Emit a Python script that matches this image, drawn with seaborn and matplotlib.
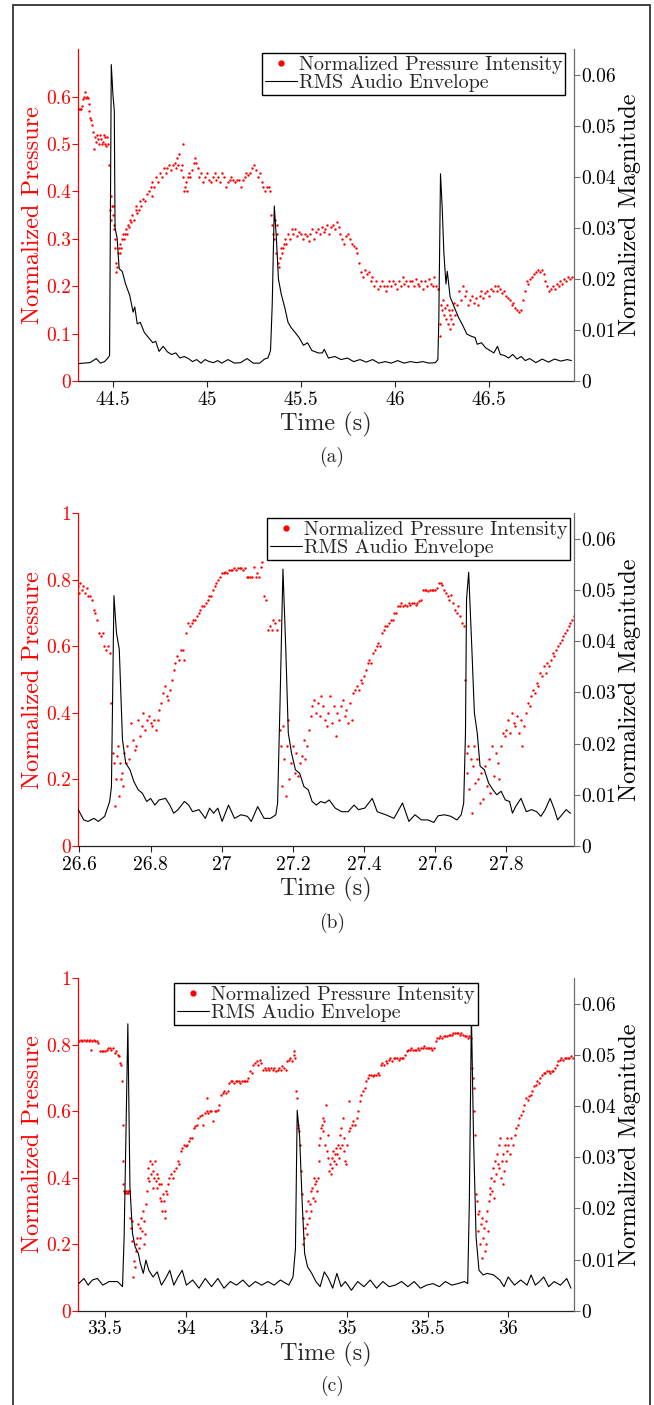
import matplotlib
matplotlib.use("Agg")
import matplotlib.pyplot as plt
from matplotlib.lines import Line2D
from matplotlib.patches import Rectangle
import seaborn as sns

# ---------------- data ----------------
legend_labels = ["Normalized Pressure Intensity", "RMS Audio Envelope"]
captions = ["(a)", "(b)", "(c)"]

# panel (a)
a_press_t = [44.315, 44.32, 44.325, 44.33, 44.335, 44.34, 44.345, 44.35, 44.355, 44.36, 44.365, 44.37, 44.375, 44.38,
             44.385, 44.39, 44.395, 44.40, 44.405, 44.41, 44.415, 44.42, 44.425, 44.43, 44.435, 44.44, 44.445, 44.45,
             44.455, 44.46, 44.465, 44.47, 44.475, 44.48, 44.485, 44.49, 44.492, 44.495, 44.498, 44.50, 44.503, 44.505,
             44.51, 44.513, 44.515, 44.518, 44.52, 44.525, 44.53, 44.535, 44.54, 44.545, 44.55, 44.555, 44.56, 44.565,
             44.57, 44.575, 44.58, 44.585, 44.59, 44.595, 44.60, 44.61, 44.62, 44.625, 44.63, 44.64, 44.645, 44.65,
             44.66, 44.67, 44.68, 44.69, 44.70, 44.705, 44.71, 44.72, 44.73, 44.74, 44.75, 44.76, 44.77, 44.78, 44.79,
             44.80, 44.81, 44.82, 44.83, 44.835, 44.84, 44.845, 44.85, 44.86, 44.865, 44.872, 44.875, 44.88, 44.885,
             44.89, 44.895, 44.90, 44.905, 44.91, 44.92, 44.93, 44.935, 44.94, 44.95, 44.96, 44.97, 44.98, 44.99,
             45.00, 45.01, 45.02, 45.03, 45.04, 45.05, 45.06, 45.07, 45.08, 45.09, 45.10, 45.11, 45.12, 45.13, 45.14,
             45.15, 45.16, 45.17, 45.18, 45.19, 45.20, 45.21, 45.22, 45.23, 45.24, 45.25, 45.26, 45.27, 45.28, 45.29,
             45.30, 45.31, 45.32, 45.33, 45.335, 45.34, 45.345, 45.35, 45.355, 45.36, 45.365, 45.37, 45.375, 45.38,
             45.385, 45.39, 45.395, 45.40, 45.405, 45.41, 45.415, 45.42, 45.43, 45.44, 45.45, 45.46, 45.47, 45.48,
             45.49, 45.50, 45.51, 45.52, 45.53, 45.54, 45.55, 45.56, 45.57, 45.58, 45.59, 45.60, 45.61, 45.62, 45.63,
             45.64, 45.65, 45.66, 45.67, 45.68, 45.69, 45.70, 45.71, 45.72, 45.73, 45.74, 45.75, 45.76, 45.77, 45.78,
             45.79, 45.80, 45.81, 45.82, 45.83, 45.84, 45.85, 45.86, 45.87, 45.88, 45.89, 45.90, 45.91, 45.92, 45.93,
             45.94, 45.95, 45.96, 45.97, 45.98, 45.99, 46.00, 46.01, 46.02, 46.03, 46.04, 46.05, 46.06, 46.07, 46.08,
             46.09, 46.10, 46.11, 46.12, 46.13, 46.14, 46.15, 46.16, 46.17, 46.18, 46.19, 46.20, 46.21, 46.22, 46.23,
             46.237, 46.24, 46.245, 46.25, 46.255, 46.26, 46.265, 46.27, 46.275, 46.28, 46.285, 46.29, 46.295, 46.30,
             46.305, 46.31, 46.315, 46.32, 46.33, 46.34, 46.35, 46.36, 46.37, 46.38, 46.39, 46.40, 46.41, 46.42, 46.43,
             46.44, 46.45, 46.46, 46.47, 46.48, 46.49, 46.50, 46.51, 46.52, 46.53, 46.54, 46.55, 46.56, 46.57, 46.58,
             46.59, 46.60, 46.61, 46.62, 46.63, 46.64, 46.65, 46.66, 46.67, 46.68, 46.69, 46.70, 46.71, 46.72, 46.73,
             46.74, 46.75, 46.76, 46.77, 46.78, 46.79, 46.80, 46.81, 46.82, 46.83, 46.84, 46.85, 46.86, 46.87, 46.88,
             46.89, 46.90, 46.91, 46.92, 46.93, 46.94]
a_press_v = [0.575, 0.575, 0.575, 0.575, 0.58, 0.595, 0.6, 0.61, 0.598, 0.6, 0.598, 0.585, 0.57, 0.555,
             0.55, 0.54, 0.525, 0.49, 0.515, 0.505, 0.52, 0.51, 0.5, 0.52, 0.51, 0.5, 0.505, 0.52,
             0.515, 0.5, 0.495, 0.515, 0.5, 0.455, 0.36, 0.34, 0.39, 0.37, 0.35, 0.37, 0.33, 0.32,
             0.3, 0.28, 0.25, 0.23, 0.24, 0.27, 0.28, 0.27, 0.29, 0.28, 0.3, 0.31, 0.3, 0.31,
             0.32, 0.31, 0.33, 0.325, 0.34, 0.335, 0.35, 0.34, 0.36, 0.37, 0.355, 0.36, 0.38, 0.37,
             0.385, 0.38, 0.395, 0.40, 0.41, 0.39, 0.42, 0.41, 0.43, 0.42, 0.44, 0.43, 0.45, 0.44, 0.45,
             0.455, 0.445, 0.455, 0.46, 0.45, 0.47, 0.455, 0.48, 0.445, 0.455, 0.5, 0.43, 0.40, 0.41,
             0.42, 0.40, 0.43, 0.44, 0.43, 0.445, 0.46, 0.47, 0.46, 0.45, 0.43, 0.44, 0.42, 0.43,
             0.44, 0.425, 0.42, 0.43, 0.44, 0.425, 0.43, 0.42, 0.44, 0.43, 0.41, 0.42, 0.425, 0.43, 0.425,
             0.42, 0.425, 0.425, 0.41, 0.425, 0.43, 0.44, 0.435, 0.44, 0.45, 0.455, 0.445, 0.43, 0.44, 0.42,
             0.41, 0.40, 0.41, 0.41, 0.40, 0.35, 0.33, 0.31, 0.30, 0.34, 0.27, 0.33, 0.31, 0.25,
             0.24, 0.26, 0.28, 0.27, 0.28, 0.29, 0.30, 0.29, 0.31, 0.30, 0.32, 0.31, 0.32, 0.305,
             0.315, 0.31, 0.30, 0.31, 0.305, 0.295, 0.31, 0.32, 0.30, 0.315, 0.32, 0.31, 0.325, 0.315, 0.32,
             0.33, 0.31, 0.325, 0.33, 0.32, 0.335, 0.325, 0.31, 0.30, 0.29, 0.305, 0.31, 0.30, 0.29, 0.285,
             0.28, 0.27, 0.25, 0.23, 0.22, 0.235, 0.225, 0.23, 0.21, 0.22, 0.20, 0.21, 0.195, 0.20, 0.21,
             0.20, 0.19, 0.20, 0.21, 0.20, 0.21, 0.205, 0.195, 0.21, 0.20, 0.22, 0.205, 0.21, 0.20, 0.21,
             0.21, 0.20, 0.215, 0.205, 0.20, 0.21, 0.195, 0.21, 0.20, 0.215, 0.205, 0.20, 0.22, 0.20, 0.195,
             0.095, 0.12, 0.16, 0.15, 0.17, 0.14, 0.155, 0.13, 0.16, 0.12, 0.15, 0.11, 0.14, 0.13,
             0.15, 0.12, 0.165, 0.14, 0.16, 0.19, 0.17, 0.20, 0.18, 0.19, 0.16, 0.17, 0.18, 0.165, 0.175,
             0.16, 0.18, 0.19, 0.175, 0.185, 0.19, 0.18, 0.195, 0.19, 0.20, 0.19, 0.20, 0.195, 0.185, 0.19,
             0.18, 0.175, 0.17, 0.16, 0.165, 0.155, 0.15, 0.145, 0.15, 0.17, 0.19, 0.21, 0.205, 0.215, 0.22,
             0.225, 0.23, 0.235, 0.23, 0.235, 0.225, 0.21, 0.20, 0.19, 0.195, 0.20, 0.195, 0.205, 0.20, 0.21,
             0.205, 0.215, 0.21, 0.22, 0.215, 0.22]
a_audio_t = [44.315, 44.344, 44.378, 44.411, 44.433, 44.455, 44.473, 44.482, 44.491, 44.50, 44.507, 44.511, 44.522,
             44.533, 44.549, 44.567, 44.589, 44.607, 44.616, 44.629, 44.645, 44.667, 44.689, 44.712, 44.727, 44.745,
             44.767, 44.79, 44.812, 44.834, 44.856, 44.879, 44.901, 44.923, 44.945, 44.968, 44.99, 45.012, 45.035,
             45.057, 45.079, 45.112, 45.146, 45.179, 45.213, 45.246, 45.28, 45.306, 45.324, 45.338, 45.347, 45.358,
             45.369, 45.38, 45.395, 45.413, 45.431, 45.447, 45.469, 45.49, 45.513, 45.535, 45.557, 45.591, 45.613,
             45.624, 45.646, 45.68, 45.713, 45.747, 45.78, 45.814, 45.847, 45.881, 45.914, 45.948, 45.98, 46.014,
             46.048, 46.081, 46.115, 46.148, 46.182, 46.215, 46.228, 46.233, 46.242, 46.251, 46.26, 46.271, 46.278,
             46.293, 46.315, 46.337, 46.359, 46.382, 46.404, 46.426, 46.437, 46.46, 46.482, 46.504, 46.526, 46.545,
             46.56, 46.582, 46.604, 46.626, 46.649, 46.671, 46.693, 46.716, 46.749, 46.783, 46.816, 46.849, 46.882,
             46.916, 46.938]
a_audio_v = [0.0034, 0.0035, 0.0036, 0.0044, 0.0035, 0.0038, 0.0045, 0.005, 0.062, 0.056, 0.053, 0.030, 0.028,
             0.022, 0.0215, 0.019, 0.0168, 0.0135, 0.0145, 0.0112, 0.0115, 0.0095, 0.0085, 0.0075, 0.0078, 0.0058,
             0.0068, 0.0057, 0.0052, 0.0055, 0.0045, 0.0048, 0.0044, 0.0038, 0.0042, 0.0035, 0.0042, 0.0038, 0.0036,
             0.004, 0.0035, 0.0042, 0.0035, 0.0036, 0.0044, 0.0035, 0.0035, 0.0043, 0.0045, 0.006, 0.015, 0.0343,
             0.028, 0.020, 0.017, 0.0145, 0.0115, 0.0105, 0.0095, 0.0085, 0.007, 0.0075, 0.006, 0.0055, 0.0055,
             0.0062, 0.0045, 0.0048, 0.0042, 0.0045, 0.0038, 0.0042, 0.0037, 0.0042, 0.0035, 0.0038, 0.0035, 0.004,
             0.0035, 0.0038, 0.0036, 0.0038, 0.0035, 0.0036, 0.0042, 0.012, 0.0406, 0.034, 0.025, 0.019, 0.0215,
             0.0165, 0.0145, 0.0125, 0.011, 0.0092, 0.0088, 0.0085, 0.0072, 0.0075, 0.0065, 0.006, 0.0055, 0.0068,
             0.0052, 0.005, 0.0045, 0.0052, 0.0043, 0.0048, 0.004, 0.0044, 0.0036, 0.0043, 0.0037, 0.0043, 0.0039,
             0.0042, 0.004]

# panel (b)
b_press_t = [26.597, 26.60, 26.603, 26.606, 26.61, 26.615, 26.62, 26.625, 26.63, 26.635, 26.64, 26.645, 26.65, 26.655,
             26.66, 26.665, 26.67, 26.675, 26.68, 26.685, 26.69, 26.694, 26.697, 26.70, 26.703, 26.706, 26.709, 26.712,
             26.715, 26.718, 26.72, 26.723, 26.726, 26.73, 26.735, 26.74, 26.745, 26.75, 26.755, 26.76, 26.765, 26.77,
             26.775, 26.78, 26.785, 26.79, 26.795, 26.80, 26.805, 26.81, 26.815, 26.82, 26.825, 26.83, 26.835, 26.84,
             26.845, 26.85, 26.855, 26.86, 26.865, 26.87, 26.875, 26.88, 26.885, 26.89, 26.895, 26.90, 26.905, 26.91,
             26.915, 26.92, 26.925, 26.93, 26.935, 26.94, 26.945, 26.95, 26.955, 26.96, 26.965, 26.97, 26.975, 26.98,
             26.985, 26.99, 26.995, 27.00, 27.005, 27.01, 27.015, 27.02, 27.025, 27.03, 27.035, 27.04, 27.045, 27.05,
             27.055, 27.06, 27.065, 27.07, 27.075, 27.08, 27.085, 27.09, 27.095, 27.10, 27.105, 27.11, 27.113, 27.12,
             27.125, 27.13, 27.135, 27.14, 27.145, 27.15, 27.155, 27.16, 27.164, 27.167, 27.17, 27.173, 27.176, 27.18,
             27.183, 27.186, 27.19, 27.195, 27.20, 27.205, 27.21, 27.215, 27.22, 27.225, 27.23, 27.235, 27.24, 27.245,
             27.25, 27.255, 27.26, 27.265, 27.27, 27.275, 27.28, 27.285, 27.29, 27.295, 27.30, 27.305, 27.31, 27.315,
             27.32, 27.325, 27.33, 27.335, 27.34, 27.345, 27.35, 27.355, 27.36, 27.365, 27.37, 27.375, 27.38, 27.385,
             27.39, 27.395, 27.40, 27.405, 27.41, 27.415, 27.42, 27.425, 27.43, 27.435, 27.44, 27.445, 27.45, 27.455,
             27.46, 27.465, 27.47, 27.475, 27.48, 27.485, 27.49, 27.495, 27.50, 27.505, 27.51, 27.515, 27.52, 27.525,
             27.53, 27.535, 27.54, 27.545, 27.55, 27.555, 27.56, 27.565, 27.57, 27.575, 27.58, 27.585, 27.59, 27.595,
             27.60, 27.605, 27.61, 27.615, 27.62, 27.625, 27.63, 27.635, 27.64, 27.645, 27.65, 27.655, 27.66, 27.665,
             27.67, 27.675, 27.68, 27.685, 27.688, 27.69, 27.693, 27.696, 27.70, 27.703, 27.706, 27.71, 27.713, 27.716,
             27.72, 27.725, 27.73, 27.735, 27.74, 27.745, 27.75, 27.755, 27.76, 27.765, 27.77, 27.775, 27.78, 27.785,
             27.79, 27.795, 27.80, 27.805, 27.81, 27.815, 27.82, 27.825, 27.83, 27.835, 27.84, 27.845, 27.85, 27.855,
             27.86, 27.865, 27.87, 27.875, 27.88, 27.885, 27.89, 27.895, 27.90, 27.905, 27.91, 27.915, 27.92, 27.925,
             27.93, 27.935, 27.94, 27.945, 27.95, 27.955, 27.96, 27.965, 27.97, 27.975, 27.98, 27.985, 27.99]
b_press_v = [0.78, 0.76, 0.79, 0.77, 0.78, 0.76, 0.775, 0.75, 0.75, 0.74, 0.71, 0.70, 0.68, 0.64,
             0.63, 0.64, 0.60, 0.59, 0.60, 0.58, 0.43, 0.28, 0.25, 0.12, 0.20, 0.27, 0.30, 0.15,
             0.25, 0.20, 0.22, 0.18, 0.28, 0.25, 0.30, 0.26, 0.37, 0.32, 0.29, 0.30, 0.38, 0.33,
             0.36, 0.40, 0.35, 0.38, 0.39, 0.37, 0.36, 0.38, 0.35, 0.38, 0.41, 0.43, 0.46, 0.48,
             0.45, 0.44, 0.47, 0.50, 0.53, 0.55, 0.57, 0.56, 0.59, 0.59, 0.56, 0.64, 0.67, 0.66,
             0.67, 0.68, 0.68, 0.69, 0.70, 0.71, 0.72, 0.72, 0.73, 0.74, 0.75, 0.75, 0.77, 0.78,
             0.79, 0.80, 0.81, 0.82, 0.82, 0.825, 0.82, 0.83, 0.83, 0.83, 0.835, 0.83, 0.835, 0.835,
             0.835, 0.83, 0.835, 0.81, 0.81, 0.81, 0.81, 0.84, 0.81, 0.82, 0.81, 0.84, 0.855, 0.75,
             0.74, 0.65, 0.66, 0.65, 0.68, 0.67, 0.65, 0.68, 0.35, 0.30, 0.18, 0.36, 0.26, 0.15,
             0.30, 0.38, 0.20, 0.25, 0.30, 0.22, 0.28, 0.21, 0.25, 0.27, 0.32, 0.26, 0.30, 0.35,
             0.39, 0.42, 0.44, 0.40, 0.43, 0.39, 0.45, 0.42, 0.38, 0.36, 0.40, 0.45, 0.37, 0.42,
             0.33, 0.40, 0.38, 0.42, 0.44, 0.39, 0.41, 0.37, 0.43, 0.38, 0.46, 0.47, 0.48, 0.47,
             0.50, 0.49, 0.51, 0.53, 0.55, 0.56, 0.55, 0.58, 0.59, 0.60, 0.61, 0.60, 0.64, 0.65,
             0.66, 0.66, 0.67, 0.68, 0.68, 0.70, 0.70, 0.72, 0.72, 0.73, 0.72, 0.725, 0.72, 0.73,
             0.725, 0.73, 0.73, 0.725, 0.73, 0.735, 0.74, 0.77, 0.77, 0.77, 0.765, 0.77, 0.77, 0.77,
             0.77, 0.775, 0.79, 0.79, 0.785, 0.77, 0.76, 0.75, 0.74, 0.755, 0.73, 0.71, 0.70, 0.72,
             0.69, 0.67, 0.66, 0.50, 0.28, 0.22, 0.30, 0.17, 0.26, 0.10, 0.24, 0.30, 0.19, 0.26,
             0.20, 0.13, 0.22, 0.14, 0.24, 0.18, 0.26, 0.16, 0.30, 0.21, 0.28, 0.25, 0.20, 0.30,
             0.34, 0.33, 0.35, 0.38, 0.34, 0.40, 0.37, 0.36, 0.39, 0.34, 0.38, 0.30, 0.36, 0.40,
             0.43, 0.42, 0.45, 0.47, 0.46, 0.49, 0.48, 0.52, 0.51, 0.54, 0.52, 0.55, 0.54, 0.56,
             0.58, 0.57, 0.59, 0.60, 0.61, 0.62, 0.63, 0.64, 0.65, 0.66, 0.67, 0.68, 0.69]
b_audio_t = [26.596, 26.612, 26.624, 26.641, 26.653, 26.671, 26.685, 26.69, 26.697, 26.704, 26.712, 26.721, 26.73,
             26.742, 26.753, 26.765, 26.777, 26.789, 26.80, 26.812, 26.824, 26.842, 26.854, 26.865, 26.877, 26.895,
             26.907, 26.918, 26.936, 26.954, 26.966, 26.977, 26.989, 27.001, 27.019, 27.036, 27.054, 27.072, 27.083,
             27.101, 27.119, 27.137, 27.152, 27.157, 27.164, 27.172, 27.18, 27.187, 27.196, 27.207, 27.219, 27.231,
             27.243, 27.254, 27.266, 27.278, 27.29, 27.302, 27.319, 27.337, 27.355, 27.372, 27.384, 27.402, 27.423,
             27.437, 27.461, 27.484, 27.508, 27.526, 27.543, 27.561, 27.579, 27.596, 27.608, 27.626, 27.644, 27.661,
             27.673, 27.68, 27.685, 27.688, 27.694, 27.703, 27.71, 27.718, 27.726, 27.738, 27.75, 27.762, 27.773,
             27.785, 27.797, 27.809, 27.817, 27.826, 27.841, 27.856, 27.871, 27.885, 27.897, 27.909, 27.923, 27.935,
             27.944, 27.956, 27.968, 27.98]
b_audio_v = [0.0072, 0.0051, 0.0048, 0.0054, 0.0048, 0.0058, 0.0087, 0.0116, 0.0489, 0.0417, 0.0384, 0.0208, 0.0162,
             0.0149, 0.0126, 0.011, 0.0103, 0.0087, 0.0093, 0.008, 0.009, 0.0093, 0.008, 0.0064, 0.0071, 0.0087,
             0.008, 0.0067, 0.0071, 0.0054, 0.0074, 0.0064, 0.0074, 0.0048, 0.008, 0.0054, 0.0061, 0.0058, 0.0048,
             0.0077, 0.0054, 0.0054, 0.0061, 0.0084, 0.0286, 0.0541, 0.0384, 0.0221, 0.0182, 0.0149, 0.0142, 0.0116,
             0.011, 0.0087, 0.008, 0.0087, 0.0084, 0.009, 0.0074, 0.0067, 0.0067, 0.008, 0.0071, 0.0074, 0.0093,
             0.0067, 0.0061, 0.0054, 0.0084, 0.0048, 0.0061, 0.0051, 0.0051, 0.0046, 0.0059, 0.0061, 0.0058, 0.0051,
             0.0061, 0.0084, 0.0221, 0.0482, 0.0535, 0.0384, 0.026, 0.0221, 0.0156, 0.0149, 0.0123, 0.011, 0.010,
             0.0107, 0.009, 0.0087, 0.0064, 0.0077, 0.0093, 0.0067, 0.0071, 0.0067, 0.0058, 0.0071, 0.0093, 0.0071,
             0.0051, 0.0061, 0.0071, 0.0064]

# panel (c)
c_press_t = [33.34, 33.35, 33.36, 33.37, 33.38, 33.39, 33.40, 33.41, 33.415, 33.42, 33.43, 33.44, 33.45, 33.46,
             33.47, 33.48, 33.49, 33.50, 33.51, 33.52, 33.53, 33.54, 33.55, 33.56, 33.57, 33.58, 33.59, 33.595,
             33.60, 33.605, 33.61, 33.612, 33.615, 33.62, 33.625, 33.63, 33.635, 33.64, 33.645, 33.65, 33.655, 33.66,
             33.665, 33.67, 33.675, 33.68, 33.685, 33.69, 33.695, 33.70, 33.705, 33.71, 33.715, 33.72, 33.725, 33.73,
             33.735, 33.74, 33.745, 33.75, 33.755, 33.76, 33.765, 33.77, 33.775, 33.78, 33.785, 33.79, 33.795, 33.80,
             33.805, 33.81, 33.815, 33.82, 33.825, 33.83, 33.835, 33.84, 33.845, 33.85, 33.855, 33.86, 33.865, 33.87,
             33.875, 33.88, 33.885, 33.89, 33.90, 33.91, 33.92, 33.93, 33.94, 33.95, 33.96, 33.97, 33.98, 33.99,
             34.00, 34.01, 34.02, 34.03, 34.04, 34.05, 34.06, 34.07, 34.08, 34.09, 34.10, 34.11, 34.12, 34.13,
             34.135, 34.14, 34.15, 34.16, 34.17, 34.18, 34.19, 34.20, 34.21, 34.22, 34.23, 34.24, 34.25, 34.26,
             34.27, 34.28, 34.29, 34.30, 34.31, 34.32, 34.33, 34.34, 34.35, 34.36, 34.37, 34.38, 34.39, 34.40,
             34.41, 34.42, 34.43, 34.44, 34.45, 34.46, 34.47, 34.48, 34.49, 34.50, 34.51, 34.52, 34.53, 34.54,
             34.55, 34.56, 34.57, 34.58, 34.59, 34.60, 34.61, 34.62, 34.63, 34.64, 34.65, 34.66, 34.67, 34.675,
             34.68, 34.687, 34.69, 34.695, 34.70, 34.705, 34.71, 34.715, 34.72, 34.725, 34.73, 34.735, 34.74, 34.745,
             34.75, 34.755, 34.76, 34.765, 34.77, 34.775, 34.78, 34.785, 34.79, 34.795, 34.80, 34.805, 34.81, 34.815,
             34.82, 34.825, 34.83, 34.835, 34.84, 34.845, 34.85, 34.855, 34.86, 34.865, 34.87, 34.875, 34.88, 34.885,
             34.89, 34.895, 34.90, 34.905, 34.91, 34.915, 34.92, 34.925, 34.93, 34.935, 34.94, 34.945, 34.95, 34.955,
             34.96, 34.965, 34.97, 34.975, 34.98, 34.985, 34.99, 34.995, 35.00, 35.01, 35.015, 35.02, 35.03, 35.04,
             35.05, 35.06, 35.07, 35.08, 35.09, 35.10, 35.11, 35.12, 35.13, 35.14, 35.15, 35.16, 35.17, 35.18,
             35.19, 35.20, 35.21, 35.22, 35.23, 35.24, 35.25, 35.26, 35.27, 35.28, 35.29, 35.30, 35.31, 35.32,
             35.33, 35.34, 35.35, 35.36, 35.37, 35.38, 35.39, 35.40, 35.41, 35.42, 35.43, 35.44, 35.45, 35.46,
             35.47, 35.48, 35.49, 35.50, 35.51, 35.52, 35.53, 35.54, 35.55, 35.56, 35.57, 35.58, 35.59, 35.60,
             35.61, 35.62, 35.63, 35.64, 35.65, 35.66, 35.67, 35.68, 35.69, 35.70, 35.71, 35.72, 35.73, 35.74,
             35.75, 35.76, 35.77, 35.775, 35.78, 35.785, 35.79, 35.795, 35.80, 35.805, 35.81, 35.815, 35.82, 35.825,
             35.83, 35.835, 35.84, 35.845, 35.85, 35.855, 35.86, 35.865, 35.87, 35.875, 35.88, 35.885, 35.89, 35.895,
             35.90, 35.905, 35.91, 35.915, 35.92, 35.925, 35.93, 35.935, 35.94, 35.945, 35.95, 35.955, 35.96, 35.965,
             35.97, 35.975, 35.98, 35.985, 35.99, 35.995, 36.00, 36.01, 36.02, 36.03, 36.04, 36.05, 36.06, 36.07,
             36.08, 36.09, 36.10, 36.11, 36.12, 36.13, 36.14, 36.15, 36.16, 36.17, 36.18, 36.19, 36.20, 36.21,
             36.22, 36.23, 36.24, 36.25, 36.26, 36.27, 36.28, 36.29, 36.30, 36.31, 36.32, 36.33, 36.34, 36.35,
             36.36, 36.37, 36.38, 36.39, 36.40]
c_press_v = [0.81, 0.815, 0.81, 0.815, 0.81, 0.815, 0.81, 0.815, 0.785, 0.81, 0.815, 0.81, 0.81, 0.805,
             0.78, 0.78, 0.78, 0.78, 0.785, 0.79, 0.79, 0.785, 0.79, 0.775, 0.78, 0.77, 0.765, 0.745,
             0.74, 0.69, 0.56, 0.45, 0.38, 0.36, 0.355, 0.36, 0.355, 0.36, 0.355, 0.36, 0.28, 0.25,
             0.21, 0.27, 0.10, 0.15, 0.13, 0.20, 0.18, 0.22, 0.26, 0.19, 0.25, 0.22, 0.28, 0.24,
             0.30, 0.20, 0.27, 0.23, 0.32, 0.36, 0.40, 0.43, 0.39, 0.45, 0.41, 0.44, 0.37, 0.42,
             0.40, 0.45, 0.39, 0.41, 0.37, 0.40, 0.38, 0.34, 0.33, 0.38, 0.30, 0.35, 0.33, 0.28,
             0.30, 0.36, 0.35, 0.38, 0.40, 0.41, 0.40, 0.42, 0.43, 0.45, 0.44, 0.48, 0.49, 0.50,
             0.495, 0.50, 0.51, 0.52, 0.52, 0.55, 0.555, 0.56, 0.58, 0.585, 0.59, 0.56, 0.595, 0.60,
             0.64, 0.595, 0.60, 0.60, 0.57, 0.60, 0.60, 0.605, 0.62, 0.65, 0.655, 0.66, 0.655, 0.66,
             0.685, 0.69, 0.69, 0.685, 0.69, 0.69, 0.69, 0.685, 0.69, 0.69, 0.69, 0.69, 0.70, 0.72,
             0.715, 0.74, 0.745, 0.75, 0.74, 0.755, 0.745, 0.725, 0.73, 0.725, 0.73, 0.725, 0.73, 0.725,
             0.73, 0.72, 0.725, 0.73, 0.725, 0.735, 0.73, 0.725, 0.75, 0.755, 0.76, 0.75, 0.78, 0.77,
             0.76, 0.66, 0.64, 0.56, 0.55, 0.54, 0.50, 0.42, 0.35, 0.28, 0.20, 0.22, 0.25, 0.30,
             0.23, 0.26, 0.33, 0.28, 0.32, 0.36, 0.30, 0.37, 0.34, 0.40, 0.38, 0.33, 0.39, 0.36,
             0.40, 0.45, 0.50, 0.52, 0.55, 0.56, 0.58, 0.54, 0.57, 0.50, 0.62, 0.48, 0.53, 0.46,
             0.42, 0.44, 0.41, 0.46, 0.43, 0.48, 0.45, 0.47, 0.49, 0.44, 0.47, 0.50, 0.46, 0.53,
             0.49, 0.55, 0.50, 0.58, 0.52, 0.48, 0.45, 0.44, 0.50, 0.54, 0.63, 0.55, 0.56, 0.57,
             0.56, 0.58, 0.60, 0.63, 0.65, 0.66, 0.67, 0.69, 0.70, 0.71, 0.71, 0.705, 0.71, 0.71,
             0.715, 0.71, 0.74, 0.745, 0.74, 0.75, 0.745, 0.755, 0.76, 0.75, 0.76, 0.76, 0.76, 0.755,
             0.76, 0.76, 0.76, 0.77, 0.78, 0.785, 0.785, 0.79, 0.785, 0.785, 0.785, 0.79, 0.785, 0.79,
             0.79, 0.795, 0.79, 0.79, 0.79, 0.79, 0.785, 0.79, 0.81, 0.82, 0.82, 0.825, 0.82, 0.825,
             0.825, 0.825, 0.83, 0.83, 0.83, 0.835, 0.835, 0.835, 0.835, 0.83, 0.835, 0.83, 0.825, 0.825,
             0.82, 0.825, 0.82, 0.73, 0.70, 0.67, 0.60, 0.53, 0.35, 0.33, 0.29, 0.24, 0.30, 0.20,
             0.26, 0.16, 0.28, 0.22, 0.25, 0.18, 0.27, 0.20, 0.30, 0.24, 0.33, 0.35, 0.37, 0.40,
             0.36, 0.43, 0.39, 0.34, 0.45, 0.41, 0.47, 0.44, 0.50, 0.43, 0.52, 0.40, 0.45, 0.38,
             0.47, 0.42, 0.50, 0.45, 0.52, 0.48, 0.50, 0.47, 0.52, 0.50, 0.53, 0.55, 0.56, 0.58,
             0.59, 0.60, 0.62, 0.64, 0.635, 0.645, 0.65, 0.66, 0.675, 0.68, 0.69, 0.685, 0.70, 0.71,
             0.715, 0.715, 0.72, 0.72, 0.715, 0.72, 0.72, 0.73, 0.74, 0.75, 0.755, 0.76, 0.755, 0.76,
             0.76, 0.76, 0.76, 0.765, 0.76]
c_audio_t = [33.337, 33.37, 33.396, 33.422, 33.453, 33.487, 33.526, 33.578, 33.609, 33.619, 33.63, 33.642, 33.655,
             33.671, 33.687, 33.707, 33.72, 33.738, 33.754, 33.772, 33.798, 33.824, 33.85, 33.876, 33.902, 33.927,
             33.953, 33.979, 34.005, 34.044, 34.083, 34.122, 34.161, 34.20, 34.238, 34.277, 34.316, 34.355, 34.394,
             34.433, 34.472, 34.51, 34.549, 34.588, 34.64, 34.666, 34.681, 34.692, 34.707, 34.723, 34.738, 34.756,
             34.782, 34.808, 34.834, 34.86, 34.886, 34.912, 34.938, 34.964, 34.99, 35.028, 35.067, 35.106, 35.145,
             35.184, 35.223, 35.262, 35.30, 35.339, 35.378, 35.417, 35.456, 35.495, 35.534, 35.573, 35.611, 35.65,
             35.689, 35.728, 35.749, 35.759, 35.772, 35.785, 35.801, 35.819, 35.845, 35.87, 35.909, 35.948, 35.974,
             36.00, 36.039, 36.078, 36.117, 36.142, 36.168, 36.194, 36.22, 36.251, 36.285, 36.324, 36.363, 36.389]
c_audio_v = [0.0053, 0.0063, 0.005, 0.006, 0.0063, 0.005, 0.0057, 0.0057, 0.0047, 0.0144, 0.034, 0.0561, 0.0242,
             0.0151, 0.0125, 0.0112, 0.0092, 0.0073, 0.0099, 0.0079, 0.0066, 0.0076, 0.005, 0.0063, 0.0079, 0.005,
             0.0066, 0.0079, 0.005, 0.006, 0.0044, 0.0063, 0.0047, 0.0063, 0.0044, 0.0057, 0.005, 0.006, 0.0047,
             0.0057, 0.005, 0.0057, 0.005, 0.006, 0.005, 0.0066, 0.012, 0.0392, 0.034, 0.021, 0.0112, 0.0086,
             0.0073, 0.0057, 0.0047, 0.0076, 0.0063, 0.0044, 0.0073, 0.0047, 0.0057, 0.004, 0.0057, 0.0047, 0.006,
             0.0044, 0.0057, 0.0047, 0.005, 0.0057, 0.0047, 0.0057, 0.0044, 0.005, 0.0053, 0.0047, 0.0057, 0.005,
             0.0053, 0.0057, 0.0053, 0.021, 0.058, 0.034, 0.0144, 0.0079, 0.007, 0.0073, 0.007, 0.006, 0.0047,
             0.0066, 0.005, 0.006, 0.005, 0.007, 0.005, 0.0057, 0.0066, 0.0047, 0.0057, 0.005, 0.0063, 0.0044]

# axis limits / ticks
a_xlim = (44.314, 46.952)
b_xlim = (26.596, 27.99)
c_xlim = (33.333, 36.408)
a_xticks = [44.5, 45, 45.5, 46, 46.5]
a_xticklabels = ["44.5", "45", "45.5", "46", "46.5"]
b_xticks = [26.6, 26.8, 27.0, 27.2, 27.4, 27.6, 27.8]
b_xticklabels = ["26.6", "26.8", "27", "27.2", "27.4", "27.6", "27.8"]
c_xticks = [33.5, 34, 34.5, 35, 35.5, 36]
c_xticklabels = ["33.5", "34", "34.5", "35", "35.5", "36"]
a_yticks = [0, 0.1, 0.2, 0.3, 0.4, 0.5, 0.6]
a_yticklabels = ["0", "0.1", "0.2", "0.3", "0.4", "0.5", "0.6"]
bc_yticks = [0, 0.2, 0.4, 0.6, 0.8, 1.0]
bc_yticklabels = ["0", "0.2", "0.4", "0.6", "0.8", "1"]
mag_ticks = [0, 0.01, 0.02, 0.03, 0.04, 0.05, 0.06]
mag_ticklabels = ["0", "0.01", "0.02", "0.03", "0.04", "0.05", "0.06"]

# ---------------- style ----------------
sns.set_theme(style="ticks")
plt.rcParams['font.family'] = ['cmr10', 'DejaVu Serif']
plt.rcParams['axes.unicode_minus'] = False
plt.rcParams['axes.formatter.use_mathtext'] = True

RED = "#ff0000"
SPINE_GRAY = "#6e6e6e"
W, H = 654, 1405
fig = plt.figure(figsize=(W / 100, H / 100), dpi=100)

TICK_FS = 14
LABEL_FS = 17.5
LEG_FS = 14.4


def panel(top_px, bottom_px, pt, pv, at, av, xlim, xticks, xtl, ylim, yticks, ytl,
          leg_loc, leg_anchor, caption, cap_y):
    left_px, right_px = 78, 574
    rect = [left_px / W, 1 - bottom_px / H, (right_px - left_px) / W, (bottom_px - top_px) / H]
    ax = fig.add_axes(rect)
    ax2 = ax.twinx()
    sns.scatterplot(x=pt, y=pv, ax=ax, color=RED, s=3.0, marker='o', linewidth=0, legend=False)
    sns.lineplot(x=at, y=av, ax=ax2, color='black', linewidth=0.8, estimator=None, sort=False, legend=False)

    ax.set_xlim(*xlim)
    ax.set_ylim(*ylim)
    ax2.set_ylim(0, 0.065)
    ax.set_xticks(xticks)
    ax.set_xticklabels(xtl)
    ax.set_yticks(yticks)
    ax.set_yticklabels(ytl)
    ax2.set_yticks(mag_ticks)
    ax2.set_yticklabels(mag_ticklabels)

    for s in ['top', 'right']:
        ax.spines[s].set_visible(False)
    for s in ['top', 'left', 'bottom']:
        ax2.spines[s].set_visible(False)
    ax.spines['left'].set_color(RED)
    ax.spines['left'].set_linewidth(0.9)
    ax.spines['bottom'].set_color('#222222')
    ax.spines['bottom'].set_linewidth(0.9)
    ax2.spines['right'].set_color(SPINE_GRAY)
    ax2.spines['right'].set_linewidth(0.9)

    ax.tick_params(axis='y', colors=RED, labelsize=TICK_FS, direction='out', length=4, width=0.8, pad=1)
    ax.tick_params(axis='x', colors='#222222', labelcolor='black', labelsize=TICK_FS, direction='out',
                   length=4, width=0.8, pad=3)
    ax2.tick_params(axis='y', colors=SPINE_GRAY, labelcolor='black', labelsize=TICK_FS, direction='out',
                    length=4, width=0.8, pad=1)

    ax.set_xlabel("Time (s)", fontsize=LABEL_FS)
    ax.set_ylabel("Normalized Pressure", fontsize=LABEL_FS, color=RED)
    ax2.set_ylabel("Normalized Magnitude", fontsize=LABEL_FS, color='black')
    h_axes = bottom_px - top_px
    ax.xaxis.set_label_coords(0.5, -(412 - 381) / h_axes)
    ax.yaxis.set_label_coords(-(78 - 44) / 496, 0.5)
    ax2.yaxis.set_label_coords((619 - 78) / 496, 0.5)

    handles = [Line2D([], [], marker='o', color=RED, linestyle='none', markersize=3.5),
               Line2D([], [], color='black', linewidth=0.8)]
    leg = ax2.legend(handles, legend_labels, loc=leg_loc, bbox_to_anchor=leg_anchor, borderaxespad=0,
                     frameon=True, fancybox=False, framealpha=1, edgecolor='black', fontsize=LEG_FS,
                     borderpad=0.15, labelspacing=0.0, handlelength=1.6, handletextpad=0.1)
    leg.get_frame().set_linewidth(1.0)
    leg.set_zorder(10)

    fig.text(332 / W, 1 - cap_y / H, caption, ha='center', va='center', fontsize=14)
    return ax, ax2


panel(49.3, 381, a_press_t, a_press_v, a_audio_t, a_audio_v, a_xlim, a_xticks, a_xticklabels,
      (0, 0.7), a_yticks, a_yticklabels, 'upper right', (0.982, 0.989), captions[0], 457)
panel(513.3, 846, b_press_t, b_press_v, b_audio_t, b_audio_v, b_xlim, b_xticks, b_xticklabels,
      (0, 1.0), bc_yticks, bc_yticklabels, 'upper right', (0.992, 0.986), captions[1], 923)
panel(978.3, 1310.7, c_press_t, c_press_v, c_audio_t, c_audio_v, c_xlim, c_xticks, c_xticklabels,
      (0, 1.0), bc_yticks, bc_yticklabels, 'upper center', (0.5, 0.986), captions[2], 1386)

# outer frame around the figure
frame = Rectangle((13 / W, -0.02), (650 - 13) / W, 1.02 - 5 / H, transform=fig.transFigure,
                  fill=False, edgecolor='#333333', linewidth=1.3)
fig.add_artist(frame)

fig.savefig("out.png", dpi=100)
